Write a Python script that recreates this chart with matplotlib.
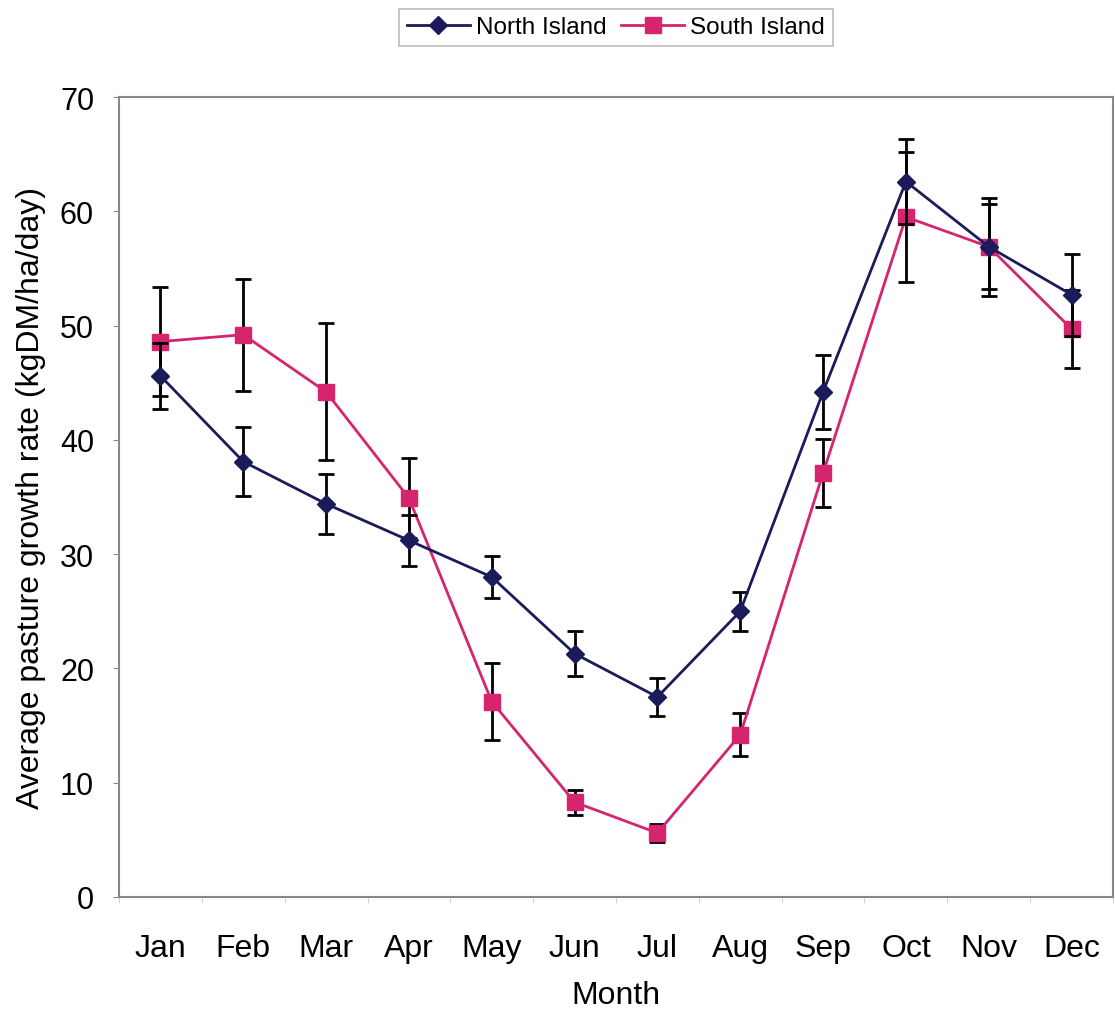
import matplotlib.pyplot as plt
from matplotlib.lines import Line2D
import numpy as np

plt.rcParams['font.family'] = ['Liberation Sans', 'DejaVu Sans']

months = ["Jan", "Feb", "Mar", "Apr", "May", "Jun", "Jul", "Aug", "Sep", "Oct", "Nov", "Dec"]

# mean growth rate and error
north_mean = [45.6, 38.1, 34.4, 31.2, 28.0, 21.3, 17.5, 25.0, 44.2, 62.6, 56.9, 52.7]
north_err = [2.9, 3.0, 2.6, 2.2, 1.8, 2.0, 1.65, 1.7, 3.25, 3.7, 3.7, 3.6]
south_mean = [48.6, 49.2, 44.2, 34.9, 17.1, 8.3, 5.6, 14.2, 37.1, 59.5, 56.9, 49.7]
south_err = [4.8, 4.9, 6.0, 3.5, 3.35, 1.1, 0.75, 1.9, 3.0, 5.7, 4.3, 3.4]

navy = "#1b1b5c"
pink = "#d6246e"

fig = plt.figure(figsize=(11.15, 10.12), dpi=100)
ax = fig.add_axes([119 / 1115, 1 - 898 / 1012, (1113 - 119) / 1115, (898 - 98) / 1012])

x = np.arange(len(months))

ax.errorbar(x, north_mean, yerr=north_err, color=navy, lw=2, marker="D", ms=9,
            mfc=navy, mec=navy, ecolor="black", elinewidth=2, capsize=5.5, capthick=2,
            zorder=3)
ax.errorbar(x, south_mean, yerr=south_err, color=pink, lw=2, marker="s", ms=11,
            mfc=pink, mec=pink, ecolor="black", elinewidth=2, capsize=5.5, capthick=2,
            zorder=2)

ax.set_xlim(-0.5, 11.5)
ax.set_ylim(0, 70)
ax.set_yticks(range(0, 71, 10))
ax.set_xticks(x)
ax.set_xticklabels(months)
ax.set_xticks(np.arange(-0.5, 12, 1), minor=True)
ax.tick_params(axis="x", which="major", length=0, pad=26, labelsize=23)
ax.tick_params(axis="x", which="minor", length=4, color="#cccccc", direction="out")
ax.tick_params(axis="y", length=4, color="#888888", labelsize=22, pad=14)

for s in ax.spines.values():
    s.set_color("#888888")
    s.set_linewidth(1.5)

ax.set_xlabel("Month", fontsize=23, labelpad=12)
ax.set_ylabel("Average pasture growth rate (kgDM/ha/day)", fontsize=23, labelpad=10)

handles = [Line2D([], [], color=navy, lw=2, marker="D", ms=9, mfc=navy, mec=navy),
           Line2D([], [], color=pink, lw=2, marker="s", ms=11, mfc=pink, mec=pink)]
leg = fig.legend(handles, ["North Island", "South Island"], loc="upper center",
                 bbox_to_anchor=(616 / 1115, 1 + 2 / 1012), ncol=2,
                 fontsize=17.5, frameon=True, fancybox=False, handlelength=2.6,
                 columnspacing=0.6, handletextpad=0.25, borderpad=0.3)
leg.get_frame().set_edgecolor("#aaaaaa")
leg.get_frame().set_linewidth(1.2)

fig.savefig("out.png", dpi=100)
